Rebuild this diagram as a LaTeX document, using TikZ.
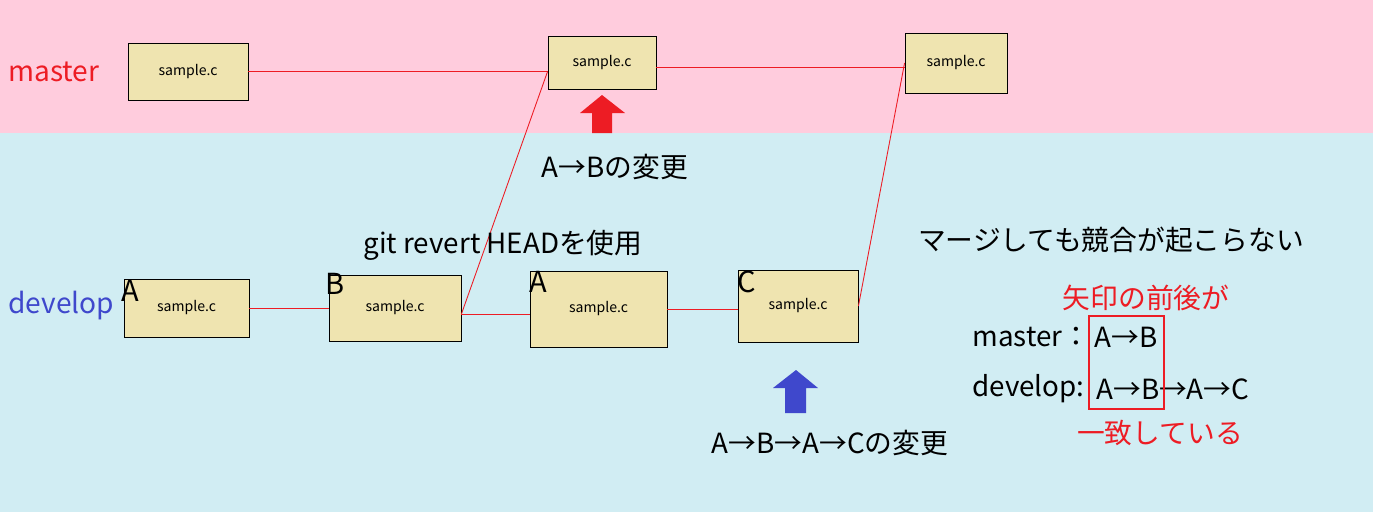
\documentclass[tikz,border=0pt]{standalone}
\usepackage{fontspec}
\setmainfont{Noto Sans CJK JP}
\usetikzlibrary{calc}
\definecolor{mpink}{RGB}{255,204,221}
\definecolor{dblue}{RGB}{209,237,243}
\definecolor{lred}{RGB}{237,28,36}
\definecolor{dvblue}{RGB}{63,72,204}
\definecolor{fbeige}{RGB}{239,228,176}

\begin{document}
\begin{tikzpicture}[x=0.02cm, y=-0.02cm,
  file/.style={draw, fill=fbeige, line width=0.5pt, inner sep=0pt, font=\fontsize{8}{9}\selectfont},
  tag/.style={anchor=north west, inner sep=0pt, font=\fontsize{16.5}{18}\selectfont},
  big/.style={inner sep=0pt, font=\fontsize{15.8}{18}\selectfont},
  branch/.style={anchor=west, inner sep=0pt, font=\fontsize{16}{19}\selectfont},
  link/.style={draw=lred, line width=0.5pt}]
  \useasboundingbox (0,0) rectangle (1373,512);
  \fill [dblue] (0,0) rectangle (1373,512);
  \fill [mpink] (0,0) rectangle (1373,133);

  \node [branch, text=lred]   (master)  at (8,72)  {master};
  \node [branch, text=dvblue] (develop) at (8,306) {develop};

  % master
  \node [file, minimum width=2.4cm,  minimum height=1.14cm] (m1) at (188,71.5) {sample.c};
  \node [file, minimum width=2.16cm, minimum height=1.06cm] (m2) at (602,62.5) {sample.c};
  \node [file, minimum width=2.04cm, minimum height=1.2cm]  (m3) at (956,63)   {sample.c};
  \coordinate (j2) at (m2.west |- m1.east);
  \coordinate (o2) at ($(m2.east)+(0,5)$);
  \path [link] (m1.east) -- (j2);
  \path [link] (o2) -- (m3.west |- o2);

  % develop
  \node [file, minimum width=2.5cm,  minimum height=1.16cm] (d1) at (186.5,308) {sample.c};
  \node [file, minimum width=2.64cm, minimum height=1.32cm] (d2) at (395,308)   {sample.c};
  \node [file, minimum width=2.74cm, minimum height=1.52cm] (d3) at (598.5,309) {sample.c};
  \node [file, minimum width=2.4cm,  minimum height=1.44cm] (d4) at (798,306)   {sample.c};
  \node [tag] (t1) at ($(d1.north west)+(-2,1)$) {A};
  \node [tag] (t2) at ($(d2.north west)+(-3,-2)$) {B};
  \node [tag] (t3) at (d3.north west) {A};
  \node [tag] (t4) at ($(d4.north west)+(0,1)$) {C};
  \coordinate (o4) at ($(d2.east)+(0,6)$);
  \path [link] (d1.east) -- (d2.west);
  \path [link] (o4) -- (d3.west |- o4);
  \path [link] (d3.east) -- (d4.west |- d3.east);
  \path [link] (o4) -- (j2);
  \path [link] (d4.east) -- (m3.west);

  % arrows
  \fill [lred]   (602,95) -- (625,113) -- (612,113) -- (612,133) -- (592,133) -- (592,113) -- (580,113) -- cycle;
  \fill [dvblue] (796,370) -- (818,388) -- (806,388) -- (806,413) -- (785,413) -- (785,388) -- (773,388) -- cycle;

  \node [big] (chg1)   at (615,167) {A→Bの変更};
  \node [big] (revert) at (503,245) {git revert HEADを使用};
  \node [big] (chg2)   at (830,443) {A→B→A→Cの変更};

  % right side
  \node [big] (merge) at (1111,240) {マージしても競合が起こらない};
  \node [big, text=lred] (same1) at (1146,298) {矢印の前後が};
  \node [big, anchor=west] (mlab) at (972,337)  {master：};
  \node [big, anchor=west] (mval) at (1094,337) {A→B};
  \node [big, anchor=west] (dlab) at (972,389)  {develop:};
  \node [big, anchor=west] (dval) at (1096,389) {A→B→A→C};
  \node [draw=lred, line width=0.6pt, minimum width=1.5cm, minimum height=1.86cm] (match) at (1126.5,362.5) {};
  \node [big, text=lred] (same2) at (1160,433) {一致している};
\end{tikzpicture}
\end{document}
